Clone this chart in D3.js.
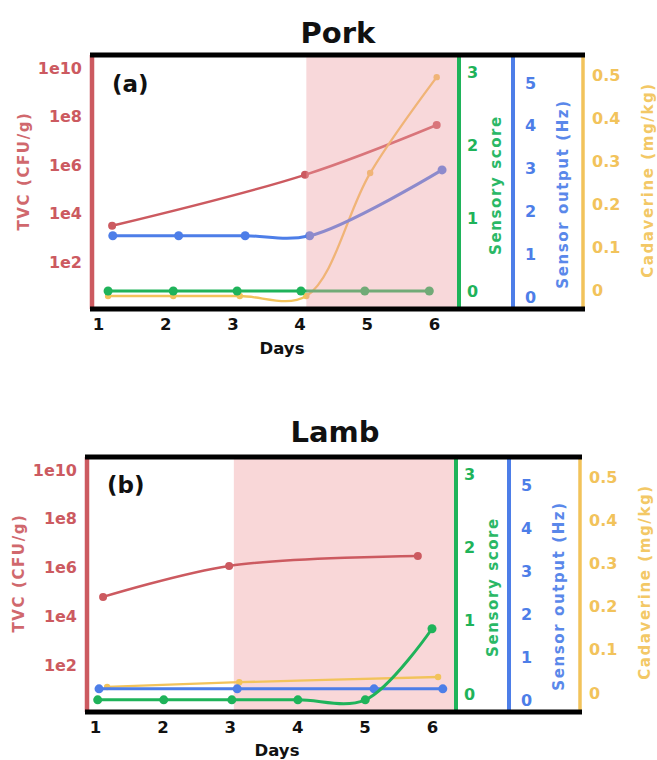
<!DOCTYPE html>
<html><head><meta charset="utf-8">
<script src="https://cdn.jsdelivr.net/npm/d3@7"></script>
<style>body{margin:0;background:#fff} svg{display:block}</style>
</head><body>
<svg id="chart" width="657" height="760"></svg>
<script>
// ---------------- data ----------------
const panelTitles = ["Pork", "Lamb"];
const panelLetters = ["(a)", "(b)"];
const dayTicks = [1, 2, 3, 4, 5, 6];
const tvcTicks = [1e2, 1e4, 1e6, 1e8, 1e10];
const tvcTickLabels = ["1e2", "1e4", "1e6", "1e8", "1e10"];
const sensoryTicks = [0, 1, 2, 3];
const sensorTicks = [0, 1, 2, 3, 4, 5];
const cadTicks = [0, 0.1, 0.2, 0.3, 0.4, 0.5];
const cadTickLabels = ["0", "0.1", "0.2", "0.3", "0.4", "0.5"];

// Pork
const porkSpoilStart = 4.1;
const porkTvcDays = [1.21, 4.08, 6.04];
const porkTvc = [3.2e3, 4.0e5, 4.5e7];
const porkSensorDays = [1.22, 2.2, 3.19, 4.15, 6.12];
const porkSensor = [1.43, 1.43, 1.43, 1.43, 2.97];
const porkSensoryDays = [1.15, 2.12, 3.07, 4.02, 4.97, 5.93];
const porkSensory = [0, 0, 0, 0, 0, 0];
const porkCadDays = [1.15, 2.12, 3.11, 4.1, 5.05, 6.04];
const porkCad = [-0.014, -0.014, -0.014, -0.014, 0.272, 0.495];

// Lamb
const lambSpoilStart = 3.06;
const lambTvcDays = [1.12, 2.99, 5.79];
const lambTvc = [6.3e4, 1.17e6, 3.0e6];
const lambSensorDays = [1.06, 3.11, 5.14, 6.16];
const lambSensor = [0.26, 0.26, 0.26, 0.26];
const lambSensoryDays = [1.04, 2.02, 3.03, 4.01, 5.01, 6.0];
const lambSensory = [-0.08, -0.08, -0.08, -0.08, -0.08, 0.89];
const lambCadDays = [1.18, 3.14, 6.09];
const lambCad = [0.014, 0.025, 0.037];

// ---------------- styles / layout ----------------
const C = { red: "#cc5a60", green: "#1fb35a", blue: "#4d7ee8", yellow: "#f2c35b" };
const FONT = "'DejaVu Sans', sans-serif";

const panels = [
  { title: panelTitles[0], letter: panelLetters[0], spoil: porkSpoilStart, shadeOnTop: true,
    lay: { top: 55, bottom: 309, left: 92, gx: 459, bx: 513, yx: 583, x0: 98, x1: 434, titleX: 338, titleY: 43, letX: 112, letY: 92, daysX: 282, daysY: 354 },
    tvc: [porkTvcDays, porkTvc], sensor: [porkSensorDays, porkSensor],
    sensory: [porkSensoryDays, porkSensory], cad: [porkCadDays, porkCad] },
  { title: panelTitles[1], letter: panelLetters[1], spoil: lambSpoilStart, shadeOnTop: false,
    lay: { top: 457, bottom: 712, left: 87, gx: 456, bx: 509, yx: 580, x0: 95, x1: 432, titleX: 335, titleY: 442, letX: 107, letY: 493, daysX: 277, daysY: 756 },
    tvc: [lambTvcDays, lambTvc], sensor: [lambSensorDays, lambSensor],
    sensory: [lambSensoryDays, lambSensory], cad: [lambCadDays, lambCad] }
];

const svg = d3.select("#chart");

panels.forEach(p => {
  const L = p.lay;
  const g = svg.append("g");
  const x = d3.scaleLinear().domain([1, 6]).range([L.x0, L.x1]);
  const yT = d3.scaleLog().domain([1, 1e10]).range([L.bottom + 2, L.top + 13]);
  const yS = d3.scaleLinear().domain([0, 3]).range([L.bottom - 18, L.top + 17]);
  const yO = d3.scaleLinear().domain([0, 5]).range([L.bottom - 12, L.top + 28]);
  const yC = d3.scaleLinear().domain([0, 0.5]).range([L.bottom - 19, L.top + 20]);

  const shade = () => g.append("rect")
    .attr("x", x(p.spoil)).attr("y", L.top)
    .attr("width", L.gx - x(p.spoil)).attr("height", L.bottom - L.top)
    .attr("fill", p.shadeOnTop ? "#ee9ea3" : "#f9d7d8")
    .attr("opacity", p.shadeOnTop ? 0.4 : 1);

  if (!p.shadeOnTop) shade();

  const series = [
    { d: p.tvc, y: yT, c: C.red, w: 2.5, r: 4 },
    { d: p.cad, y: yC, c: C.yellow, w: 2.3, r: 3.2 },
    { d: p.sensor, y: yO, c: C.blue, w: 3, r: 4.5 },
    { d: p.sensory, y: yS, c: C.green, w: 3, r: 4.5 }
  ];
  series.forEach(s => {
    const pts = s.d[0].map((dx, i) => [dx, s.d[1][i]]);
    const line = d3.line().x(d => x(d[0])).y(d => s.y(d[1])).curve(d3.curveCatmullRom.alpha(0.5));
    g.append("path").attr("d", line(pts)).attr("fill", "none")
      .attr("stroke", s.c).attr("stroke-width", s.w).attr("stroke-linecap", "round");
    g.selectAll(null).data(pts).enter().append("circle")
      .attr("cx", d => x(d[0])).attr("cy", d => s.y(d[1])).attr("r", s.r).attr("fill", s.c);
  });

  if (p.shadeOnTop) shade();

  // axis lines
  const vline = (xx, col, w) => g.append("line").attr("x1", xx).attr("x2", xx)
    .attr("y1", L.top).attr("y2", L.bottom).attr("stroke", col).attr("stroke-width", w);
  vline(L.left, C.red, 4.5);
  vline(L.gx, C.green, 4);
  vline(L.bx, C.blue, 4);
  vline(L.yx, C.yellow, 3.5);
  [L.top, L.bottom].forEach(yy => g.append("line")
    .attr("x1", L.left - 2).attr("x2", L.yx + 2).attr("y1", yy).attr("y2", yy)
    .attr("stroke", "#000").attr("stroke-width", 5));

  const styleAxis = (sel, col, size) => {
    sel.select(".domain").remove();
    sel.selectAll("text").attr("fill", col).attr("font-family", FONT)
      .attr("font-weight", "bold").attr("font-size", size);
  };

  g.append("g").attr("transform", `translate(${L.left},0)`)
    .call(d3.axisLeft(yT).tickValues(tvcTicks).tickFormat((d, i) => tvcTickLabels[i]).tickSize(0).tickPadding(10))
    .call(s => styleAxis(s, C.red, 16));
  g.append("g").attr("transform", `translate(${L.gx},0)`)
    .call(d3.axisRight(yS).tickValues(sensoryTicks).tickFormat(d3.format("d")).tickSize(0).tickPadding(8))
    .call(s => styleAxis(s, C.green, 16));
  g.append("g").attr("transform", `translate(${L.bx},0)`)
    .call(d3.axisRight(yO).tickValues(sensorTicks).tickFormat(d3.format("d")).tickSize(0).tickPadding(12))
    .call(s => styleAxis(s, C.blue, 16));
  g.append("g").attr("transform", `translate(${L.yx},0)`)
    .call(d3.axisRight(yC).tickValues(cadTicks).tickFormat((d, i) => cadTickLabels[i]).tickSize(0).tickPadding(9))
    .call(s => styleAxis(s, C.yellow, 16));
  g.append("g").attr("transform", `translate(0,${L.bottom})`)
    .call(d3.axisBottom(x).tickValues(dayTicks).tickFormat(d3.format("d")).tickSize(0).tickPadding(9))
    .call(s => styleAxis(s, "#111", 16.5));

  // rotated axis titles
  const rot = (txt, cx, cy, col) => g.append("text")
    .attr("transform", `translate(${cx},${cy}) rotate(-90)`)
    .attr("text-anchor", "middle").attr("dominant-baseline", "central")
    .attr("font-family", FONT).attr("font-weight", "bold").attr("font-size", 15)
    .attr("letter-spacing", 1.6).attr("fill", col).text(txt);
  rot("TVC (CFU/g)", L.left - 68, L.top + 116, "#d0686d");
  rot("Sensory score", L.gx + 37, L.top + 130, "#2ab866");
  rot("Sensor output (Hz)", L.bx + 50, L.top + 139, "#5a88ea");
  rot("Cadaverine (mg/kg)", L.yx + 65, L.top + 125, "#f3c866");

  g.append("text").attr("x", L.titleX).attr("y", L.titleY).attr("text-anchor", "middle")
    .attr("font-family", FONT).attr("font-weight", "bold").attr("font-size", 29)
    .attr("fill", "#111").text(p.title);
  g.append("text").attr("x", L.letX).attr("y", L.letY)
    .attr("font-family", FONT).attr("font-weight", "bold").attr("font-size", 23)
    .attr("fill", "#111").text(p.letter);
  g.append("text").attr("x", L.daysX).attr("y", L.daysY).attr("text-anchor", "middle")
    .attr("font-family", FONT).attr("font-weight", "bold").attr("font-size", 16.5)
    .attr("fill", "#111").text("Days");
});
</script>
</body></html>
